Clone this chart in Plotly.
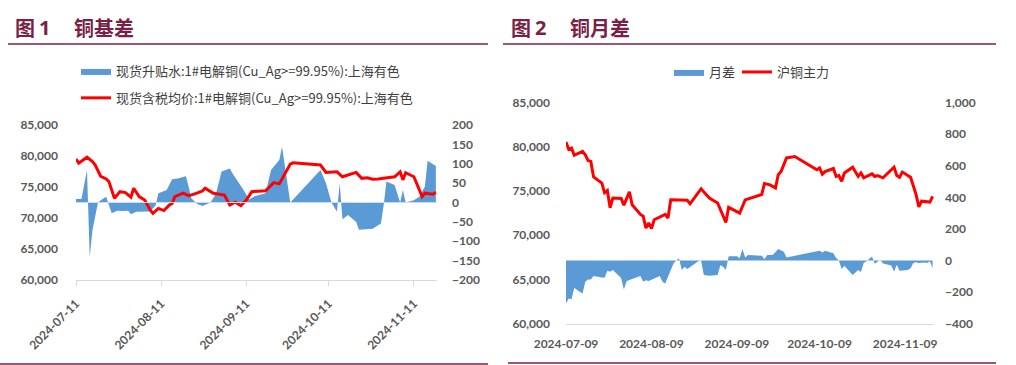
import plotly.graph_objects as go

# ---------------- Figure 1: 铜基差 ----------------
basis_dates = ["2024-07-11", "2024-07-13", "2024-07-15", "2024-07-16", "2024-07-17", "2024-07-19",
               "2024-07-20", "2024-07-22", "2024-07-23", "2024-07-24", "2024-07-26", "2024-07-28",
               "2024-07-30", "2024-07-31", "2024-08-02", "2024-08-04", "2024-08-07", "2024-08-09",
               "2024-08-10", "2024-08-13", "2024-08-15", "2024-08-17", "2024-08-20", "2024-08-21",
               "2024-08-22", "2024-08-24", "2024-08-26", "2024-08-29", "2024-08-31", "2024-09-02",
               "2024-09-05", "2024-09-06", "2024-09-08", "2024-09-10", "2024-09-12", "2024-09-14",
               "2024-09-18", "2024-09-20", "2024-09-22", "2024-09-23", "2024-09-24", "2024-09-25",
               "2024-09-27", "2024-10-08", "2024-10-10", "2024-10-12", "2024-10-14", "2024-10-15",
               "2024-10-16", "2024-10-18", "2024-10-21", "2024-10-22", "2024-10-27", "2024-10-30",
               "2024-10-31", "2024-11-01", "2024-11-04", "2024-11-06", "2024-11-07", "2024-11-08",
               "2024-11-11", "2024-11-13", "2024-11-15", "2024-11-16", "2024-11-17", "2024-11-19"]
basis_vals = [9, 9, 84, -141, -71, 0,
              6, 15, -7, -28, -21, -22,
              -21, -30, -24, -24, -23, -7,
              24, 32, 60, 62, 68, 41,
              11, -3, -9, 0, 24, 80,
              88, 75, 54, 32, 8, 16,
              24, 84, 101, 110, 144, 92,
              0, 84, 50, 0, -24, 50,
              -43, -32, -50, -70, -68, -54,
              -7, 54, 45, 0, 32, 0,
              6, 15, 41, 108, 103, 94]

spot_dates = ["2024-07-11", "2024-07-12", "2024-07-15", "2024-07-17", "2024-07-18", "2024-07-20",
              "2024-07-22", "2024-07-23", "2024-07-25", "2024-07-27", "2024-07-29", "2024-07-31",
              "2024-08-01", "2024-08-03", "2024-08-05", "2024-08-07", "2024-08-08", "2024-08-10",
              "2024-08-12", "2024-08-14", "2024-08-15", "2024-08-16", "2024-08-19", "2024-08-21",
              "2024-08-23", "2024-08-26", "2024-08-27", "2024-08-30", "2024-09-03", "2024-09-05",
              "2024-09-07", "2024-09-09", "2024-09-11", "2024-09-13", "2024-09-18", "2024-09-21",
              "2024-09-23", "2024-09-25", "2024-09-27", "2024-09-28", "2024-10-08", "2024-10-10",
              "2024-10-14", "2024-10-16", "2024-10-18", "2024-10-21", "2024-10-23", "2024-10-25",
              "2024-10-27", "2024-10-29", "2024-11-04", "2024-11-06", "2024-11-07", "2024-11-08",
              "2024-11-11", "2024-11-12", "2024-11-14", "2024-11-15", "2024-11-18", "2024-11-19"]
spot_vals = [79500, 78850, 79800, 79100, 78550, 76700,
             76300, 75850, 73200, 74250, 74100, 73350,
             74800, 73450, 72900, 71300, 70750, 71550,
             71200, 72100, 72350, 73450, 74000, 73600,
             73850, 74350, 74800, 74000, 73700, 72100,
             72550, 72000, 72900, 74250, 74400, 75700,
             75500, 77200, 78700, 78900, 78550, 77350,
             77450, 76650, 76950, 77350, 76400, 76500,
             76250, 76300, 76650, 77450, 76150, 77300,
             76650, 75600, 73450, 74000, 73850, 74150]

# ---------------- Figure 2: 铜月差 ----------------
spread_dates = ["2024-07-09", "2024-07-10", "2024-07-11", "2024-07-12", "2024-07-13", "2024-07-15",
                "2024-07-16", "2024-07-17", "2024-07-18", "2024-07-19", "2024-07-22", "2024-07-23",
                "2024-07-24", "2024-07-25", "2024-07-26", "2024-07-28", "2024-07-29", "2024-07-30",
                "2024-07-31", "2024-08-05", "2024-08-06", "2024-08-07", "2024-08-08", "2024-08-12",
                "2024-08-13", "2024-08-14", "2024-08-16", "2024-08-17", "2024-08-18", "2024-08-19",
                "2024-08-20", "2024-08-21", "2024-08-22", "2024-08-26", "2024-08-27", "2024-08-28",
                "2024-08-30", "2024-09-02", "2024-09-03", "2024-09-04", "2024-09-05", "2024-09-06",
                "2024-09-09", "2024-09-10", "2024-09-11", "2024-09-12", "2024-09-13", "2024-09-18",
                "2024-09-19", "2024-09-20", "2024-09-22", "2024-09-24", "2024-09-26", "2024-09-27",
                "2024-10-08", "2024-10-09", "2024-10-10", "2024-10-11", "2024-10-14", "2024-10-15",
                "2024-10-16", "2024-10-17", "2024-10-18", "2024-10-21", "2024-10-23", "2024-10-24",
                "2024-10-25", "2024-10-26", "2024-10-28", "2024-10-29", "2024-10-31", "2024-11-01",
                "2024-11-04", "2024-11-05", "2024-11-06", "2024-11-07", "2024-11-10", "2024-11-11",
                "2024-11-12", "2024-11-13", "2024-11-14", "2024-11-16", "2024-11-17", "2024-11-18",
                "2024-11-19"]
spread_vals = [-272, -241, -247, -173, -188, -209,
               -135, -121, -121, -99, -108, -110,
               -66, -72, -61, -93, -112, -184,
               -131, -99, -135, -125, -131, -99,
               -135, -146, -61, -19, 0, 13,
               -61, -40, -55, -6, 0, -93,
               -97, -93, -30, -40, -61, 27,
               27, 13, 72, 19, 34, 30,
               8, 34, 34, 72, 55, 19,
               58, 61, 50, 61, 45, 15,
               0, -55, -34, -93, -61, -74,
               -17, -6, 25, -21, 4, -20,
               -32, -72, -28, -66, -61, -49,
               -17, -11, -17, -13, -17, -6,
               -49]

fut_dates = ["2024-07-09", "2024-07-10", "2024-07-11", "2024-07-12", "2024-07-15", "2024-07-16",
             "2024-07-17", "2024-07-18", "2024-07-19", "2024-07-22", "2024-07-23", "2024-07-24",
             "2024-07-25", "2024-07-26", "2024-07-29", "2024-07-30", "2024-08-01", "2024-08-02",
             "2024-08-05", "2024-08-06", "2024-08-07", "2024-08-08", "2024-08-09", "2024-08-10",
             "2024-08-14", "2024-08-15", "2024-08-16", "2024-08-19", "2024-08-22", "2024-08-23",
             "2024-08-27", "2024-08-30", "2024-09-02", "2024-09-05", "2024-09-06", "2024-09-10",
             "2024-09-12", "2024-09-18", "2024-09-19", "2024-09-21", "2024-09-23", "2024-09-24",
             "2024-09-25", "2024-09-27", "2024-09-30", "2024-10-08", "2024-10-09", "2024-10-10",
             "2024-10-11", "2024-10-14", "2024-10-15", "2024-10-16", "2024-10-17", "2024-10-18",
             "2024-10-21", "2024-10-23", "2024-10-24", "2024-10-25", "2024-10-28", "2024-10-29",
             "2024-10-30", "2024-11-01", "2024-11-05", "2024-11-06", "2024-11-07", "2024-11-08",
             "2024-11-11", "2024-11-13", "2024-11-14", "2024-11-15", "2024-11-18", "2024-11-19"]
fut_vals = [80550, 79700, 79850, 79050, 79500, 79100,
            78450, 78350, 76600, 75900, 74800, 75050,
            73100, 74200, 74150, 73400, 74900, 73450,
            72350, 72150, 70800, 71400, 70750, 71750,
            72350, 71950, 74000, 73950, 73950, 73550,
            75250, 74200, 73650, 71450, 73150, 72500,
            74000, 74600, 75850, 75700, 75350, 76850,
            77200, 78750, 78900, 77400, 77600, 76900,
            77200, 77550, 76650, 76750, 76100, 77050,
            77700, 76650, 77050, 76500, 76950, 76650,
            76750, 76500, 77700, 76750, 76550, 77150,
            76550, 74600, 73200, 73850, 73750, 74400]

left_ticks = ["2024-07-11", "2024-08-11", "2024-09-11", "2024-10-11", "2024-11-11"]
right_ticks = ["2024-07-09", "2024-08-09", "2024-09-09", "2024-10-09", "2024-11-09"]

BLUE = "#5B9BD5"
RED = "#FF0000"
MAROON = "#7A1F47"
TICK = dict(family="Lato", size=12, color="#595959", weight="bold")
LEG = dict(family="Noto Sans CJK SC", size=13, color="#404040")

W, H = 1016, 365
def px(x):
    return x / W
def py(y):
    return (H - y) / H

fig = go.Figure()
fig.add_trace(go.Scatter(x=basis_dates, y=basis_vals, xaxis="x", yaxis="y", mode="lines",
                         line=dict(width=0, color=BLUE), fill="tozeroy", fillcolor=BLUE,
                         name="现货升贴水:1#电解铜(Cu_Ag>=99.95%):上海有色",
                         legend="legend", legendgroup="a"))
fig.add_trace(go.Scatter(x=spot_dates, y=spot_vals, xaxis="x", yaxis="y2", mode="lines",
                         line=dict(width=3, color=RED),
                         name="现货含税均价:1#电解铜(Cu_Ag>=99.95%):上海有色",
                         legend="legend", legendgroup="b"))
fig.add_trace(go.Scatter(x=spread_dates, y=spread_vals, xaxis="x2", yaxis="y3", mode="lines",
                         line=dict(width=0, color=BLUE), fill="tozeroy", fillcolor=BLUE,
                         name="月差", legend="legend2"))
fig.add_trace(go.Scatter(x=fut_dates, y=fut_vals, xaxis="x2", yaxis="y4", mode="lines",
                         line=dict(width=3, color=RED), name="沪铜主力", legend="legend3"))

fig.update_layout(
    width=W, height=H, autosize=False,
    margin=dict(l=0, r=0, t=0, b=0, autoexpand=False),
    paper_bgcolor="white", plot_bgcolor="white",
    xaxis=dict(domain=[px(76), px(437)], anchor="y", type="date", automargin=False,
               range=["2024-07-11", "2024-11-19 10:00"],
               tickvals=left_ticks, ticktext=left_ticks, tickangle=-45,
               showline=True, linecolor="#D9D9D9", linewidth=1,
               ticks="outside", ticklen=5, tickcolor="#D9D9D9",
               showgrid=False, zeroline=False, tickfont=TICK, ticklabelstandoff=6),
    yaxis=dict(domain=[py(280), py(125)], anchor="x", side="right", automargin=False,
               range=[-200, 200], dtick=50, showgrid=False, zeroline=False,
               tickfont=TICK, ticklabelstandoff=14),
    yaxis2=dict(overlaying="y", anchor="x", side="left", range=[60000, 85000], dtick=5000,
                tickformat=",", showgrid=False, zeroline=False, tickfont=TICK,
                ticklabelstandoff=17, automargin=False),
    xaxis2=dict(domain=[px(566), px(934)], anchor="y3", type="date", automargin=False,
                range=["2024-07-09", "2024-11-19 12:00"],
                tickvals=right_ticks, ticktext=right_ticks, tickangle=0,
                showline=True, linecolor="#D9D9D9", linewidth=1, ticks="",
                showgrid=False, zeroline=False, tickfont=TICK, ticklabelstandoff=9),
    yaxis3=dict(domain=[py(323.5), py(102.7)], anchor="x2", side="right", automargin=False,
                range=[-400, 1000], dtick=200, tickformat=",", showgrid=False,
                zeroline=False, tickfont=TICK, ticklabelstandoff=10),
    yaxis4=dict(overlaying="y3", anchor="x2", side="left", range=[60000, 85000], dtick=5000,
                tickformat=",", showgrid=False, zeroline=False, tickfont=TICK,
                ticklabelstandoff=15, automargin=False),
    legend=dict(x=px(76), y=py(56), xanchor="left", yanchor="top", orientation="v",
                font=LEG, bgcolor="rgba(0,0,0,0)", tracegroupgap=7, itemwidth=30),
    legend2=dict(x=px(669), y=py(57), xanchor="left", yanchor="top", orientation="h",
                 font=LEG, bgcolor="rgba(0,0,0,0)", itemwidth=30),
    legend3=dict(x=px(737), y=py(57), xanchor="left", yanchor="top", orientation="h",
                 font=LEG, bgcolor="rgba(0,0,0,0)", itemwidth=30),
    showlegend=True,
)

title_cjk = dict(family="Noto Sans CJK SC", size=20, color=MAROON, weight="bold")
title_num = dict(family="Noto Sans", size=20, color=MAROON, weight="bold")
for x, txt, f in [(13, "图", title_cjk), (37, "1", title_num), (72, "铜基差", title_cjk),
                  (509, "图", title_cjk), (533, "2", title_num), (568, "铜月差", title_cjk)]:
    fig.add_annotation(x=px(x), y=py(27), xref="paper", yref="paper", text=txt,
                       showarrow=False, xanchor="left", yanchor="middle", font=f)

for x0, x1, y in [(8, 488, 44), (503, 996, 44), (0, 488, 364), (508, 996, 363)]:
    fig.add_shape(type="line", xref="paper", yref="paper", x0=px(x0), x1=px(x1),
                  y0=py(y), y1=py(y), line=dict(color=MAROON, width=1.5))

fig.add_shape(type="line", xref="x domain", yref="y", x0=0, x1=1, y0=0, y1=0,
              line=dict(color="#C9DDF0", width=1), layer="above")

fig.write_html("out.html", config={"displayModeBar": False},
               post_script="document.body.style.margin='0';document.body.style.overflow='hidden';")
